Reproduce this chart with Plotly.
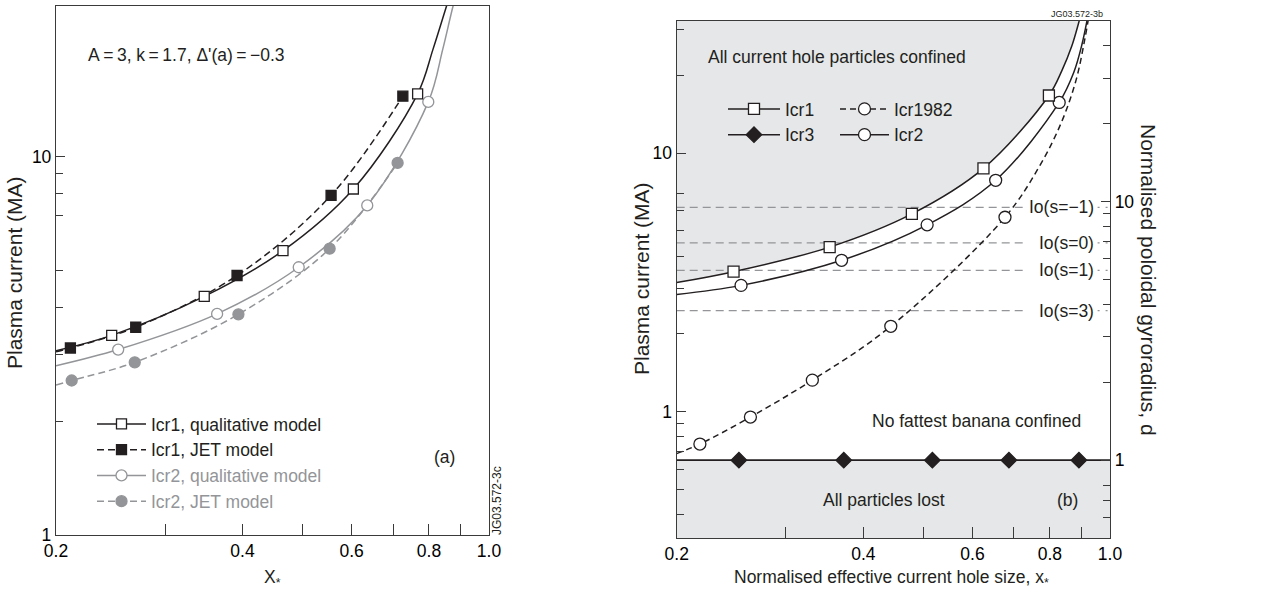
import math
import plotly.graph_objects as go

# ---------------- Panel (a) data ----------------
A_ICR1_Q_X = [0.246, 0.347, 0.465, 0.604, 0.767]
A_ICR1_Q_Y = [3.37, 4.27, 5.64, 8.21, 14.65]
A_ICR1_J_X = [0.211, 0.269, 0.392, 0.556, 0.726]
A_ICR1_J_Y = [3.12, 3.54, 4.85, 7.90, 14.44]
A_ICR2_Q_X = [0.252, 0.364, 0.493, 0.636, 0.798]
A_ICR2_Q_Y = [3.09, 3.84, 5.10, 7.43, 13.95]
A_ICR2_J_X = [0.212, 0.268, 0.394, 0.553, 0.712]
A_ICR2_J_Y = [2.56, 2.86, 3.83, 5.71, 9.62]

# points
A_ICR1_Q_CX = [0.2, 0.246, 0.347, 0.465, 0.604, 0.767, 0.812, 0.854, 0.871]
A_ICR1_Q_CY = [3.07, 3.37, 4.27, 5.64, 8.21, 14.65, 19.2, 25.0, 27.7]
A_ICR1_J_CX = [0.2, 0.211, 0.269, 0.392, 0.556, 0.726]
A_ICR1_J_CY = [3.05, 3.12, 3.54, 4.85, 7.90, 14.44]
A_ICR2_Q_CX = [0.2, 0.252, 0.364, 0.493, 0.636, 0.798, 0.842, 0.875, 0.891]
A_ICR2_Q_CY = [2.80, 3.09, 3.84, 5.10, 7.43, 13.95, 19.2, 25.0, 27.7]
A_ICR2_J_CX = [0.2, 0.212, 0.268, 0.394, 0.553, 0.712]
A_ICR2_J_CY = [2.49, 2.56, 2.86, 3.83, 5.71, 9.62]

# ---------------- Panel (b) data ----------------
B_ICR1_X = [0.247, 0.353, 0.479, 0.625, 0.797]
B_ICR1_Y = [3.48, 4.33, 5.82, 8.73, 16.7]
B_ICR2_X = [0.254, 0.369, 0.507, 0.654, 0.828]
B_ICR2_Y = [3.08, 3.85, 5.28, 7.85, 15.7]
B_ICR1982_X = [0.218, 0.263, 0.331, 0.443, 0.677]
B_ICR1982_Y = [0.75, 0.954, 1.325, 2.14, 5.65]
B_ICR3_X = [0.252, 0.372, 0.517, 0.687, 0.891]
B_ICR3_LEVEL = 0.65

B_ICR1_CX = [0.2, 0.247, 0.353, 0.479, 0.625, 0.797, 0.836, 0.868, 0.894, 0.906]
B_ICR1_CY = [3.16, 3.48, 4.33, 5.82, 8.73, 16.7, 20.8, 26.0, 33.1, 37.1]
B_ICR2_CX = [0.2, 0.254, 0.369, 0.507, 0.654, 0.828, 0.874, 0.901, 0.922]
B_ICR2_CY = [2.84, 3.08, 3.85, 5.28, 7.85, 15.7, 20.5, 26.3, 34.3]
B_ICR1982_CX = [0.2, 0.218, 0.263, 0.331, 0.443, 0.677, 0.771, 0.836, 0.882, 0.911, 0.932]
B_ICR1982_CY = [0.689, 0.75, 0.954, 1.325, 2.14, 5.65, 8.97, 13.25, 19.24, 27.7, 38.1]

IO_LABELS = ["Io(s=\u22121)", "Io(s=0)", "Io(s=1)", "Io(s=3)"]
IO_VALUES = [6.17, 4.50, 3.52, 2.46]
IO_X_RANGE = [0.2, 0.735]
IO_CONNECT_X = [0.955, 1.0]

X_TICKS = [0.2, 0.3, 0.4, 0.5, 0.6, 0.7, 0.8, 0.9, 1.0]
X_TICKTEXT = ["0.2", "", "0.4", "", "0.6", "", "0.8", "", "1.0"]
A_Y_RANGE = [1, 25]
A_Y_MINOR = [2, 3, 4, 5, 7, 8, 9]
B_Y_RANGE = [0.325, 32.5]
B_Y_MINOR = [0.4, 0.5, 0.6, 0.7, 0.8, 0.9, 2, 3, 4, 5, 6, 7, 20, 30]
D_FACTOR = 1 / 0.65
D_MINOR = [0.6, 0.7, 0.8, 2, 3, 4, 5, 6, 7, 8, 9, 20, 30, 40]
FILL_TOP = 60
FILL_BOTTOM = 0.2

BLACK = "#231f20"
GREY = "#939598"
FILL = "#e6e7e8"
AXIS = "#3a3a3a"
FONT = "Liberation Sans, Arial, sans-serif"
FS = 17.5
W, H = 1278, 593

def px(x):
    return x / W

def py(y):
    return 1 - y / H

fig = go.Figure()

DASH = "7px,4px"

def curve(x, y, color, dash, xa="x", ya="y"):
    fig.add_trace(go.Scatter(x=x, y=y, mode="lines", xaxis=xa, yaxis=ya,
                             line=dict(color=color, width=1.5, dash=dash, shape="spline", smoothing=1.0),
                             showlegend=False, hoverinfo="skip"))

def marks(x, y, symbol, fill, edge, size, xa="x", ya="y"):
    fig.add_trace(go.Scatter(x=x, y=y, mode="markers", xaxis=xa, yaxis=ya,
                             marker=dict(symbol=symbol, size=size, color=fill,
                                         line=dict(color=edge, width=1.3)),
                             showlegend=False, hoverinfo="skip"))

def legend_item(name, color, dash, symbol, fill, edge, size, legend, xa="x", ya="y"):
    fig.add_trace(go.Scatter(x=[None], y=[None], mode="lines+markers", xaxis=xa, yaxis=ya,
                             name=name, legend=legend,
                             line=dict(color=color, width=1.5, dash=dash),
                             marker=dict(symbol=symbol, size=size, color=fill,
                                         line=dict(color=edge, width=1.3))))

# ---------------- panel (a) ----------------
curve(A_ICR2_J_CX, A_ICR2_J_CY, GREY, DASH)
curve(A_ICR2_Q_CX, A_ICR2_Q_CY, GREY, "solid")
curve(A_ICR1_J_CX, A_ICR1_J_CY, BLACK, DASH)
curve(A_ICR1_Q_CX, A_ICR1_Q_CY, BLACK, "solid")
marks(A_ICR2_J_X, A_ICR2_J_Y, "circle", GREY, GREY, 11)
marks(A_ICR2_Q_X, A_ICR2_Q_Y, "circle", "white", GREY, 11)
marks(A_ICR1_J_X, A_ICR1_J_Y, "square", BLACK, BLACK, 10)
marks(A_ICR1_Q_X, A_ICR1_Q_Y, "square", "white", BLACK, 10)

legend_item("Icr1, qualitative model", BLACK, "solid", "square", "white", BLACK, 10, "legend")
legend_item("Icr1, JET model", BLACK, DASH, "square", BLACK, BLACK, 10, "legend")
legend_item('<span style="color:%s">Icr2, qualitative model</span>' % GREY, GREY, "solid", "circle", "white", GREY, 11, "legend")
legend_item('<span style="color:%s">Icr2, JET model</span>' % GREY, GREY, DASH, "circle", GREY, GREY, 11, "legend")

# ---------------- panel (b) ----------------
fig.add_trace(go.Scatter(x=[B_ICR1_CX[0], B_ICR1_CX[-1]], y=[FILL_TOP, FILL_TOP], mode="lines",
                         xaxis="x2", yaxis="y2", line=dict(width=0, color=FILL),
                         showlegend=False, hoverinfo="skip"))
fig.add_trace(go.Scatter(x=B_ICR1_CX, y=B_ICR1_CY, mode="lines", xaxis="x2", yaxis="y2",
                         line=dict(width=0, color=FILL, shape="spline", smoothing=1.0),
                         fill="tonexty", fillcolor=FILL, showlegend=False, hoverinfo="skip"))
fig.add_trace(go.Scatter(x=[X_TICKS[0], X_TICKS[-1]], y=[FILL_BOTTOM, FILL_BOTTOM], mode="lines",
                         xaxis="x2", yaxis="y2", line=dict(width=0, color=FILL),
                         showlegend=False, hoverinfo="skip"))
fig.add_trace(go.Scatter(x=[X_TICKS[0], X_TICKS[-1]], y=[B_ICR3_LEVEL, B_ICR3_LEVEL], mode="lines",
                         xaxis="x2", yaxis="y2", line=dict(width=0, color=FILL),
                         fill="tonexty", fillcolor=FILL, showlegend=False, hoverinfo="skip"))

for v in IO_VALUES:
    fig.add_trace(go.Scatter(x=IO_X_RANGE, y=[v, v], mode="lines", xaxis="x2", yaxis="y2",
                             line=dict(color=GREY, width=1.3, dash="8px,5px"),
                             showlegend=False, hoverinfo="skip"))
    fig.add_trace(go.Scatter(x=IO_CONNECT_X, y=[v, v], mode="lines", xaxis="x2", yaxis="y2",
                             line=dict(color=GREY, width=1.2, dash="2px,6px"),
                             showlegend=False, hoverinfo="skip"))

curve(B_ICR1982_CX, B_ICR1982_CY, BLACK, "6px,4px", "x2", "y2")
curve(B_ICR2_CX, B_ICR2_CY, BLACK, "solid", "x2", "y2")
curve(B_ICR1_CX, B_ICR1_CY, BLACK, "solid", "x2", "y2")
fig.add_trace(go.Scatter(x=[X_TICKS[0], X_TICKS[-1]], y=[B_ICR3_LEVEL, B_ICR3_LEVEL], mode="lines",
                         xaxis="x2", yaxis="y2", line=dict(color=BLACK, width=1.6),
                         showlegend=False, hoverinfo="skip"))
marks(B_ICR1982_X, B_ICR1982_Y, "circle", "white", BLACK, 12, "x2", "y2")
marks(B_ICR2_X, B_ICR2_Y, "circle", "white", BLACK, 12, "x2", "y2")
marks(B_ICR1_X, B_ICR1_Y, "square", "white", BLACK, 11, "x2", "y2")
marks(B_ICR3_X, [B_ICR3_LEVEL] * len(B_ICR3_X), "diamond", BLACK, BLACK, 12, "x2", "y2")

legend_item("Icr1", BLACK, "solid", "square", "white", BLACK, 11, "legend2", "x2", "y2")
legend_item("Icr3", BLACK, "solid", "diamond", BLACK, BLACK, 12, "legend2", "x2", "y2")
legend_item("Icr1982", BLACK, "6px,4px", "circle", "white", BLACK, 12, "legend3", "x2", "y2")
legend_item("Icr2", BLACK, "solid", "circle", "white", BLACK, 12, "legend3", "x2", "y2")

fig.add_trace(go.Scatter(x=[0.5], y=[1], xaxis="x2", yaxis="y3", mode="markers",
                         marker=dict(opacity=0), showlegend=False, hoverinfo="skip"))

tickfont = dict(family=FONT, size=FS, color="black")

def xaxis(domain, anchor):
    return dict(domain=domain, anchor=anchor, type="log",
                range=[math.log10(X_TICKS[0]), math.log10(X_TICKS[-1])],
                tickmode="array", tickvals=X_TICKS, ticktext=X_TICKTEXT,
                ticks="inside", ticklen=11, tickwidth=1.2, tickcolor=AXIS,
                showline=True, linecolor=AXIS, linewidth=1.3, mirror=True,
                showgrid=False, zeroline=False, tickfont=tickfont, automargin=False)

def logy(domain, anchor, rng, minor, side="left", overlaying=None, mirror=True):
    d = dict(domain=domain, anchor=anchor, type="log",
             range=[math.log10(rng[0]), math.log10(rng[1])],
             tickmode="array", tickvals=[1, 10], ticktext=["1", "10"],
             ticks="inside", ticklen=9, tickwidth=1.2, tickcolor=AXIS,
             minor=dict(tickmode="array", tickvals=minor, ticks="inside", ticklen=7,
                        tickwidth=1.1, tickcolor=AXIS, showgrid=False),
             showline=True, linecolor=AXIS, linewidth=1.3, mirror=mirror, side=side,
             showgrid=False, zeroline=False, tickfont=tickfont, automargin=False)
    if overlaying:
        d["overlaying"] = overlaying
    return d

A_XD = [px(56), px(489)]
A_YD = [py(535), py(6)]
B_XD = [px(676.7), px(1110)]
B_YD = [py(538), py(20.7)]

legfont = dict(family=FONT, size=FS, color=BLACK)
leg_common = dict(xanchor="left", yanchor="top", bgcolor="rgba(0,0,0,0)", font=legfont,
                  traceorder="normal", borderwidth=0)

fig.update_layout(
    width=W, height=H, margin=dict(l=0, r=0, t=0, b=0, autoexpand=False),
    paper_bgcolor="white", plot_bgcolor="rgba(0,0,0,0)",
    xaxis=xaxis(A_XD, "y"),
    yaxis=logy(A_YD, "x", A_Y_RANGE, A_Y_MINOR),
    xaxis2=xaxis(B_XD, "y2"),
    yaxis2=logy(B_YD, "x2", B_Y_RANGE, B_Y_MINOR, mirror=False),
    yaxis3=logy(B_YD, "x2", [B_Y_RANGE[0] * D_FACTOR, B_Y_RANGE[1] * D_FACTOR], D_MINOR,
                side="right", overlaying="y2", mirror=False),
    legend=dict(x=px(92), y=py(406), itemwidth=49, **leg_common),
    legend2=dict(x=px(723), y=py(91), itemwidth=52, **leg_common),
    legend3=dict(x=px(835), y=py(91), itemwidth=49, **leg_common),
    showlegend=True,
)

ann = []
def text(t, x, y, xanchor="center", yanchor="middle", size=FS, angle=0, color=BLACK,
         xref="paper", yref="paper"):
    ann.append(dict(text=t, x=x, y=y, xref=xref, yref=yref, xanchor=xanchor, yanchor=yanchor,
                    showarrow=False, textangle=angle, font=dict(family=FONT, size=size, color=color)))

T = "\u2009"
text("A" + T + "=" + T + "3, k" + T + "=" + T + "1.7, \u0394'(a)" + T + "=" + T + "\u22120.3",
     px(86), py(55), xanchor="left")
text("(a)", px(445), py(457))
text("JG03.572-3c", px(497), py(501), size=12, angle=-90)
text("X<sub>*</sub>", px(272), py(578))
text("Plasma current (MA)", px(15), py(273), size=21, angle=-90)

text("Plasma current (MA)", px(641), py(279), size=21, angle=-90)
text("Normalised poloidal gyroradius, d", px(1148), py(280), size=21, angle=90)
text("Normalised effective current hole size, x<sub>*</sub>", px(891), py(578))
text("All current hole particles confined", px(706), py(57), xanchor="left")
text("No fattest banana confined", px(870), py(421), xanchor="left")
text("All particles lost", px(821), py(500), xanchor="left")
text("(b)", px(1067), py(500))
text("JG03.572-3b", px(1105), py(14), xanchor="right", size=9)
for lab, v in zip(IO_LABELS, IO_VALUES):
    text(lab, px(1096), math.log10(v), xanchor="right", yref="y2")

fig.update_layout(annotations=ann)
fig.write_html("out.html")
